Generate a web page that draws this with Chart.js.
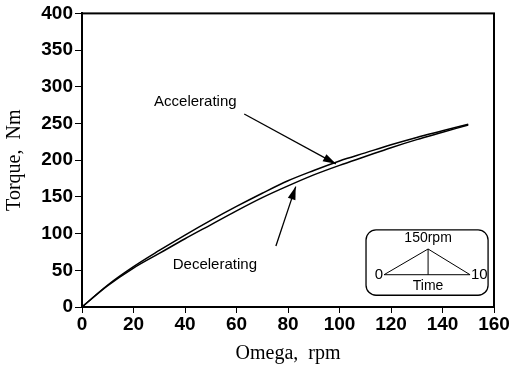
<!DOCTYPE html>
<html>
<head>
<meta charset="utf-8">
<script src="https://cdn.jsdelivr.net/npm/chart.js@4/dist/chart.umd.min.js"></script>
<style>
  html, body { margin: 0; padding: 0; background: #fff; }
  #wrap { width: 512px; height: 373px; }
</style>
</head>
<body>
<div id="wrap"><canvas id="grafico"></canvas></div>
<script>
// dados
const omega = [0, 10, 20, 30, 40, 50, 60, 70, 80, 90, 100, 110, 120, 130, 140, 150];
const torqueAcel = [0, 30, 55, 77, 98, 118, 137, 155, 172, 186, 199, 210, 221, 231, 240, 249];
const torqueDesacel = [0, 29, 53, 73, 93, 112, 131, 149, 165, 180, 193, 205, 217, 228, 238, 248];
const xTicks = [0, 20, 40, 60, 80, 100, 120, 140, 160];
const yTicks = [0, 50, 100, 150, 200, 250, 300, 350, 400];

function pontos(ys) {
  return omega.map((x, i) => ({ x: x, y: ys[i] }));
}

// anotações (setas, textos e o quadro de inserção)
const anotacoes = {
  id: 'anotacoes',
  afterDraw(chart) {
    const ctx = chart.ctx;
    const xs = chart.scales.x, ys = chart.scales.y;
    const px = v => xs.getPixelForValue(v);
    const py = v => ys.getPixelForValue(v);
    const a = chart.chartArea;

    ctx.save();
    // moldura
    ctx.strokeStyle = '#000';
    ctx.lineWidth = 2;
    ctx.strokeRect(a.left, a.top, a.right - a.left, a.bottom - a.top);

    ctx.fillStyle = '#000';
    ctx.font = '15px "Liberation Sans", Arial, sans-serif';
    ctx.textAlign = 'center';
    ctx.textBaseline = 'middle';
    ctx.fillText('Accelerating', px(44), py(279));
    ctx.fillText('Decelerating', px(51.6), py(58));

    function seta(x1, y1, x2, y2) {
      const X1 = px(x1), Y1 = py(y1), X2 = px(x2), Y2 = py(y2);
      ctx.lineWidth = 1.3;
      ctx.beginPath();
      ctx.moveTo(X1, Y1);
      ctx.lineTo(X2, Y2);
      ctx.stroke();
      const ang = Math.atan2(Y2 - Y1, X2 - X1);
      const L = 13, W = 4;
      ctx.beginPath();
      ctx.moveTo(X2, Y2);
      ctx.lineTo(X2 - L * Math.cos(ang) + W * Math.sin(ang), Y2 - L * Math.sin(ang) - W * Math.cos(ang));
      ctx.lineTo(X2 - L * Math.cos(ang) - W * Math.sin(ang), Y2 - L * Math.sin(ang) + W * Math.cos(ang));
      ctx.closePath();
      ctx.fill();
    }
    seta(63, 263, 98.6, 195);
    seta(75.3, 83, 83, 164);

    // quadro inserido
    const bx1 = px(110.3), by1 = py(105), bx2 = px(157.7), by2 = py(16);
    ctx.lineWidth = 1.3;
    ctx.beginPath();
    ctx.roundRect(bx1, by1, bx2 - bx1, by2 - by1, 10);
    ctx.stroke();

    ctx.font = '14px "Liberation Sans", Arial, sans-serif';
    ctx.fillText('150rpm', px(134.4), py(94));
    ctx.fillText('Time', px(134.4), py(29));
    ctx.font = '15px "Liberation Sans", Arial, sans-serif';
    ctx.fillText('0', px(115.3), py(44));
    ctx.fillText('10', px(154.3), py(44));

    ctx.lineWidth = 1;
    ctx.beginPath();
    ctx.moveTo(px(117.3), py(44));
    ctx.lineTo(px(134.4), py(79));
    ctx.lineTo(px(150.7), py(44));
    ctx.closePath();
    ctx.moveTo(px(134.4), py(79));
    ctx.lineTo(px(134.4), py(44));
    ctx.stroke();
    ctx.restore();
  }
};

const fonteTicks = { family: '"Liberation Sans", Arial, sans-serif', size: 19, weight: 'bold' };
const fonteTitulo = { family: '"Liberation Serif", "Times New Roman", serif', size: 20 };

new Chart(document.getElementById('grafico'), {
  type: 'line',
  data: {
    datasets: [
      { label: 'Accelerating', data: pontos(torqueAcel), borderColor: '#000', borderWidth: 1.5, pointRadius: 0, cubicInterpolationMode: 'monotone', fill: false },
      { label: 'Decelerating', data: pontos(torqueDesacel), borderColor: '#000', borderWidth: 1.5, pointRadius: 0, cubicInterpolationMode: 'monotone', fill: false }
    ]
  },
  options: {
    responsive: true,
    maintainAspectRatio: false,
    animation: false,
    layout: { padding: { left: 0, top: 8, right: 18, bottom: 0 } },
    plugins: { legend: { display: false }, tooltip: { enabled: false } },
    scales: {
      x: {
        type: 'linear', min: 0, max: 160,
        afterBuildTicks: s => { s.ticks = xTicks.map(v => ({ value: v })); },
        afterFit: s => { s.height = 66; },
        grid: { drawOnChartArea: false, drawTicks: true, tickLength: 6, tickColor: '#000', color: '#000' },
        border: { display: true, color: '#000', width: 2 },
        ticks: { color: '#000', font: fonteTicks, padding: 0, maxRotation: 0 },
        title: { display: true, text: 'Omega,  rpm', color: '#000', font: fonteTitulo, padding: { bottom: 7 } }
      },
      y: {
        type: 'linear', min: 0, max: 400,
        afterBuildTicks: s => { s.ticks = yTicks.map(v => ({ value: v })); },
        afterFit: s => { s.width = 82; },
        grid: { drawOnChartArea: false, drawTicks: true, tickLength: 7, tickColor: '#000', color: '#000' },
        border: { display: true, color: '#000', width: 2 },
        ticks: { color: '#000', font: fonteTicks, padding: 2 },
        title: { display: true, text: 'Torque,  Nm', color: '#000', font: fonteTitulo, padding: { top: 3 } }
      }
    }
  },
  plugins: [anotacoes]
});
</script>
</body>
</html>
